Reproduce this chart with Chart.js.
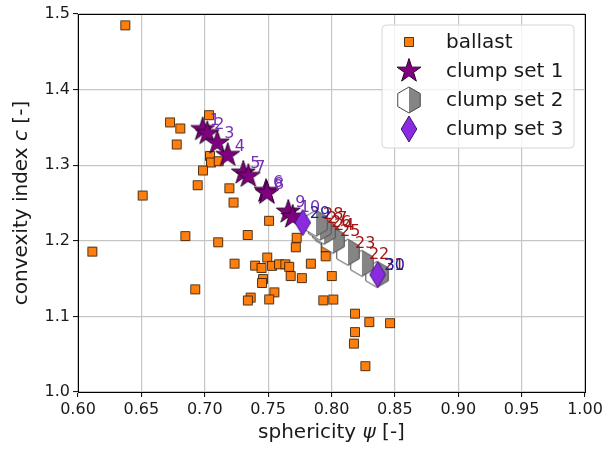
<!DOCTYPE html>
<html>
<head>
<meta charset="utf-8">
<script src="https://cdn.jsdelivr.net/npm/chart.js@4.4.1/dist/chart.umd.min.js"></script>
<style>
  html, body { margin: 0; padding: 0; background: #fff; }
  #c { display: block; }
</style>
</head>
<body>
<canvas id="c" width="614" height="450"></canvas>
<script>
// ---- data -------------------------------------------------------------
// ballast particles: sphericity / convexity index
const ballastX = [0.6373, 0.6113, 0.6510, 0.6726, 0.6807, 0.6779, 0.7034, 0.7041, 0.7049, 0.7110,
                  0.6986, 0.6944, 0.7194, 0.7227, 0.7507, 0.6847, 0.7339, 0.7106, 0.7725, 0.7718,
                  0.7954, 0.7954, 0.7493, 0.7235, 0.7397, 0.7448, 0.7531, 0.7586, 0.7636, 0.7666,
                  0.7837, 0.7678, 0.7766, 0.8002, 0.7460, 0.7452, 0.6925, 0.7549, 0.7362, 0.7340,
                  0.7508, 0.7935, 0.8014, 0.8185, 0.8298, 0.8462, 0.8185, 0.8177, 0.8267];
const ballastY = [1.4850, 1.1857, 1.2599, 1.3566, 1.3486, 1.3274, 1.3662, 1.3123, 1.3036, 1.3053,
                  1.2930, 1.2735, 1.2695, 1.2506, 1.2265, 1.2062, 1.2077, 1.1980, 1.2040, 1.1914,
                  1.1914, 1.1795, 1.1779, 1.1698, 1.1672, 1.1641, 1.1669, 1.1689, 1.1689, 1.1656,
                  1.1698, 1.1534, 1.1507, 1.1534, 1.1494, 1.1442, 1.1358, 1.1318, 1.1249, 1.1211,
                  1.1225, 1.1212, 1.1223, 1.1036, 1.0925, 1.0911, 1.0792, 1.0640, 1.0342];

// clump set 1
const set1Ids = [1, 2, 3, 4, 5, 6, 7, 8, 9, 10];
const set1X = [0.6984, 0.7020, 0.7099, 0.7181, 0.7304, 0.7483, 0.7344, 0.7491, 0.7659, 0.7694];
const set1Y = [1.3473, 1.3420, 1.3295, 1.3132, 1.2898, 1.2656, 1.2854, 1.2629, 1.2381, 1.2315];

// clump set 2
const set2Ids = [21, 22, 23, 24, 25, 26, 27, 28];
const set2X = [0.8359, 0.8240, 0.8130, 0.7964, 0.8012, 0.7941, 0.7909, 0.7878];
const set2Y = [1.1556, 1.1702, 1.1848, 1.2086, 1.2007, 1.2126, 1.2179, 1.2232];

// clump set 3
const set3Ids = [29, 30];
const set3X = [0.7773, 0.8364];
const set3Y = [1.2241, 1.1552];

// axis ticks
const xTicks = [0.60, 0.65, 0.70, 0.75, 0.80, 0.85, 0.90, 0.95, 1.00];
const yTicks = [1.0, 1.1, 1.2, 1.3, 1.4, 1.5];

const seriesNames = ['ballast', 'clump set 1', 'clump set 2', 'clump set 3'];

// ---- marker sprites -----------------------------------------------------
const FONT = "'DejaVu Sans', 'Liberation Sans', sans-serif";

function sprite(size, draw) {
  const c = document.createElement('canvas');
  c.width = size; c.height = size;
  const g = c.getContext('2d');
  g.translate(size / 2, size / 2);
  draw(g);
  return c;
}

function squarePath(g, h) { g.beginPath(); g.rect(-h, -h, 2 * h, 2 * h); }

function starPath(g, R, r) {
  g.beginPath();
  for (let k = 0; k < 10; k++) {
    const a = -Math.PI / 2 + k * Math.PI / 5;
    const rr = (k % 2) ? r : R;
    g.lineTo(rr * Math.cos(a), rr * Math.sin(a));
  }
  g.closePath();
}

function hexPath(g, R) {
  g.beginPath();
  for (let k = 0; k < 6; k++) {
    const a = -Math.PI / 2 + k * Math.PI / 3;
    g.lineTo(R * Math.cos(a), R * Math.sin(a));
  }
  g.closePath();
}

function diamondPath(g, hw, hh) {
  g.beginPath();
  g.moveTo(0, -hh); g.lineTo(hw, 0); g.lineTo(0, hh); g.lineTo(-hw, 0);
  g.closePath();
}

const squareSprite = sprite(12, g => {
  squarePath(g, 4.5);
  g.fillStyle = '#ff7f0e'; g.fill();
  g.lineWidth = 1; g.strokeStyle = 'rgba(50,25,0,0.85)'; g.stroke();
});

const starSprite = sprite(30, g => {
  starPath(g, 12.5, 12.5 * 0.382);
  g.fillStyle = '#800080'; g.fill();
  g.lineWidth = 1; g.strokeStyle = '#2a002a'; g.stroke();
});

const hexSprite = sprite(30, g => {
  const R = 13;
  hexPath(g, R);
  g.fillStyle = '#ffffff'; g.fill();
  g.save();
  g.beginPath(); g.rect(0, -R - 1, R + 1, 2 * R + 2); g.clip();
  hexPath(g, R);
  g.fillStyle = '#858585'; g.fill();
  g.restore();
  hexPath(g, R);
  g.lineWidth = 1; g.strokeStyle = '#4a4a4a'; g.stroke();
});

const diamondSprite = sprite(30, g => {
  diamondPath(g, 7.8, 13);
  g.fillStyle = '#8a2be2'; g.fill();
  g.lineWidth = 1; g.strokeStyle = '#3b1670'; g.stroke();
});

const sprites = [squareSprite, starSprite, hexSprite, diamondSprite];

// ---- datasets -----------------------------------------------------------
const toPts = (xs, ys) => xs.map((x, i) => ({ x: x, y: ys[i] }));

const datasets = [
  { label: seriesNames[0], data: toPts(ballastX, ballastY), pointStyle: squareSprite, order: 4 },
  { label: seriesNames[1], data: toPts(set1X, set1Y), pointStyle: starSprite, order: 3, ids: set1Ids, labelColor: '#7430b4' },
  { label: seriesNames[2], data: toPts(set2X, set2Y), pointStyle: hexSprite, order: 2, ids: set2Ids, labelColor: '#a31515' },
  { label: seriesNames[3], data: toPts(set3X, set3Y), pointStyle: diamondSprite, order: 1, ids: set3Ids, labelColor: '#1c1c9c' }
];
datasets.forEach(d => { d.pointRadius = 6; d.showLine = false; });

// ---- plugins ------------------------------------------------------------
// numbers next to the clump markers
const idLabels = {
  id: 'idLabels',
  afterDatasetsDraw(chart) {
    const ctx = chart.ctx;
    ctx.save();
    ctx.font = '16px ' + FONT;
    ctx.textAlign = 'left';
    ctx.textBaseline = 'alphabetic';
    [1, 2, 3].forEach(di => {
      const ds = chart.data.datasets[di];
      const meta = chart.getDatasetMeta(di);
      ctx.fillStyle = ds.labelColor;
      meta.data.forEach((pt, i) => {
        ctx.fillText(String(ds.ids[i]), pt.x + 7, pt.y - 4.5);
      });
    });
    ctx.restore();
  }
};

function drawMixed(ctx, parts, cx, cy) {
  const fonts = parts.map(p => (p.it ? 'italic ' : '') + '20px ' + FONT);
  let total = 0;
  const widths = parts.map((p, i) => { ctx.font = fonts[i]; const w = ctx.measureText(p.t).width; total += w; return w; });
  let x = cx - total / 2;
  parts.forEach((p, i) => { ctx.font = fonts[i]; ctx.fillText(p.t, x, cy); x += widths[i]; });
}

// frame, axis titles and legend box
const decorations = {
  id: 'decorations',
  afterDraw(chart) {
    const ctx = chart.ctx;
    const a = chart.chartArea;
    ctx.save();
    ctx.strokeStyle = '#000';
    ctx.lineWidth = 1;
    ctx.strokeRect(Math.round(a.left) + 0.5, Math.round(a.top) + 0.5,
                   Math.round(a.right - a.left) - 0, Math.round(a.bottom - a.top) - 0);

    ctx.fillStyle = '#1a1a1a';
    ctx.textBaseline = 'middle';
    ctx.textAlign = 'left';
    drawMixed(ctx, [{ t: 'sphericity ' }, { t: 'ψ', it: true }, { t: ' [-]' }], (a.left + a.right) / 2, 433);
    ctx.save();
    ctx.translate(22, (a.top + a.bottom) / 2);
    ctx.rotate(-Math.PI / 2);
    drawMixed(ctx, [{ t: 'convexity index ' }, { t: 'c', it: true }, { t: ' [-]' }], 0, 0);
    ctx.restore();

    // legend
    const lx = 382, ly = 25, lw = 192, lh = 123, r = 4;
    ctx.beginPath();
    ctx.moveTo(lx + r, ly);
    ctx.arcTo(lx + lw, ly, lx + lw, ly + lh, r);
    ctx.arcTo(lx + lw, ly + lh, lx, ly + lh, r);
    ctx.arcTo(lx, ly + lh, lx, ly, r);
    ctx.arcTo(lx, ly, lx + lw, ly, r);
    ctx.closePath();
    ctx.fillStyle = 'rgba(255,255,255,0.8)';
    ctx.fill();
    ctx.strokeStyle = '#d6d6d6';
    ctx.stroke();

    ctx.font = '20px ' + FONT;
    ctx.fillStyle = '#1a1a1a';
    ctx.textBaseline = 'middle';
    seriesNames.forEach((name, i) => {
      const y = 42 + i * 29;
      const s = sprites[i];
      ctx.drawImage(s, 409 - s.width / 2, y - s.height / 2);
      ctx.fillText(name, 446, y + 1);
    });
    ctx.restore();
  }
};

// ---- chart --------------------------------------------------------------
const tickFont = { family: FONT, size: 16 };

new Chart(document.getElementById('c'), {
  type: 'scatter',
  data: { datasets: datasets },
  options: {
    responsive: false,
    devicePixelRatio: 1,
    animation: false,
    events: [],
    layout: { padding: { top: 14, right: 29, left: 0, bottom: 0 } },
    plugins: { legend: { display: false }, tooltip: { enabled: false } },
    scales: {
      x: {
        type: 'linear',
        min: 0.6, max: 1.0,
        afterBuildTicks: s => { s.ticks = xTicks.map(v => ({ value: v })); },
        afterFit: s => { s.height = 58; s.paddingLeft = 0; s.paddingRight = 0; },
        ticks: { font: tickFont, color: '#1a1a1a', padding: 3, maxRotation: 0, autoSkip: false,
                 callback: v => Number(v).toFixed(2) },
        grid: { color: '#c6c6c6', lineWidth: 1.2, tickLength: 5, tickColor: '#000', tickWidth: 1 },
        border: { display: true, color: '#000', width: 1 }
      },
      y: {
        type: 'linear',
        min: 1.0, max: 1.5,
        afterBuildTicks: s => { s.ticks = yTicks.map(v => ({ value: v })); },
        afterFit: s => { s.width = 78; s.paddingTop = 0; s.paddingBottom = 0; },
        ticks: { font: tickFont, color: '#1a1a1a', padding: 3, autoSkip: false,
                 callback: v => Number(v).toFixed(1) },
        grid: { color: '#c6c6c6', lineWidth: 1.2, tickLength: 5, tickColor: '#000', tickWidth: 1 },
        border: { display: true, color: '#000', width: 1 }
      }
    }
  },
  plugins: [idLabels, decorations]
});
</script>
</body>
</html>
